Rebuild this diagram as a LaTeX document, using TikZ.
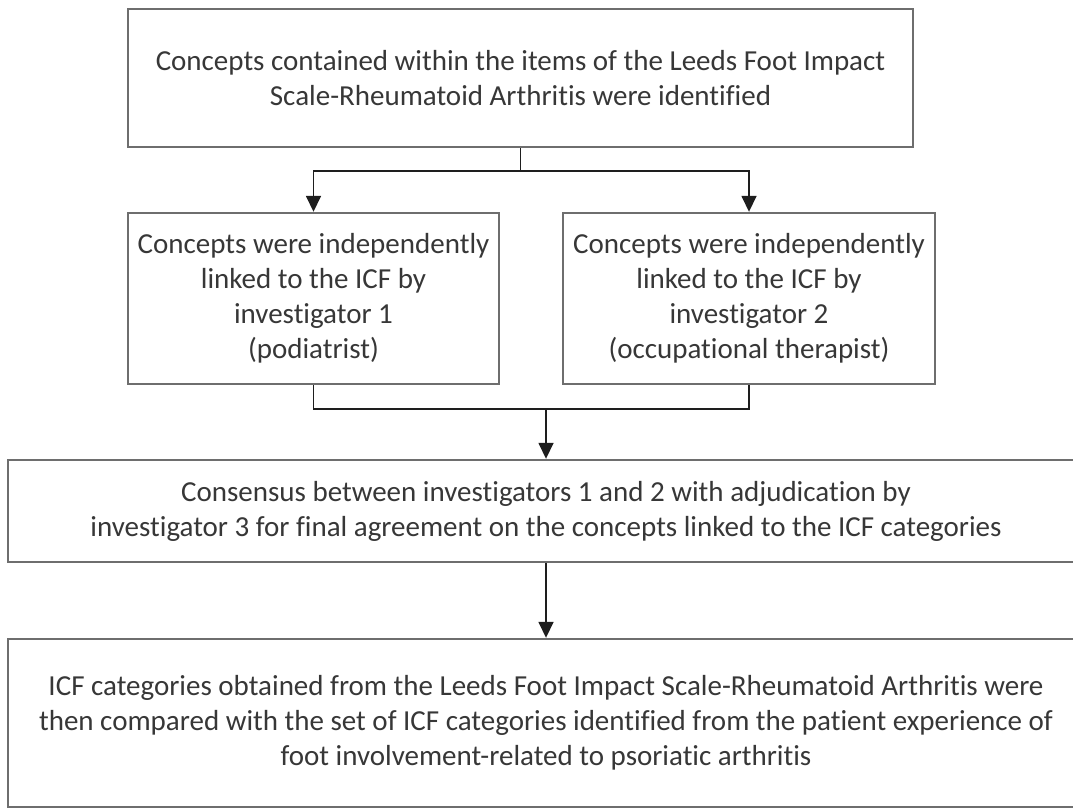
\documentclass[tikz,border=0pt]{standalone}
\usepackage{fontspec}
\setmainfont{Carlito}[Ligatures={NoCommon}]
\usetikzlibrary{arrows.meta}
\definecolor{boxline}{RGB}{110,110,110}
\definecolor{conline}{RGB}{30,30,30}
\definecolor{txt}{RGB}{55,55,55}
\tikzset{
  flowbox/.style={draw=boxline, line width=2.4pt, fill=white, inner sep=0pt,
    align=center, text=txt, font=\fontsize{29}{35}\selectfont},
  conn/.style={draw=conline, line width=1.6pt},
  arr/.style={conn, -{Triangle[width=15pt,length=16pt]}}
}
\begin{document}
\begin{tikzpicture}[x=1pt,y=-1pt]
\useasboundingbox (0,0) rectangle (1073,808);
\fill[white] (0,0) rectangle (1073,808);
\clip (0,0) rectangle (1073,808);
\node[flowbox, minimum width=785pt, minimum height=138pt] (b1) at (520.5,78)
  {Concepts contained within the items of the Leeds Foot Impact\\Scale-Rheumatoid Arthritis were identified};
\node[flowbox, minimum width=371pt, minimum height=171pt] (b2) at (313.5,298.5)
  {Concepts were independently\\linked to the ICF by\\investigator 1\\(podiatrist)};
\node[flowbox, minimum width=372pt, minimum height=171pt] (b3) at (749,298.5)
  {Concepts were independently\\linked to the ICF by\\investigator 2\\(occupational therapist)};
\node[flowbox, minimum width=1076pt, minimum height=102pt] (b4) at (546,511)
  {Consensus between investigators 1 and 2 with adjudication by\\investigator 3 for final agreement on the concepts linked to the ICF categories};
\node[flowbox, minimum width=1076pt, minimum height=168pt] (b5) at (546,723)
  {ICF categories obtained from the Leeds Foot Impact Scale-Rheumatoid Arthritis were\\then compared with the set of ICF categories identified from the patient experience of\\foot involvement-related to psoriatic arthritis};
\coordinate (j1) at (520.5,171);
\coordinate (j2) at (546,409);
\draw[conn] (b1.south) -- (j1);
\draw[arr] (j1) -| (b2.north);
\draw[arr] (j1) -| (b3.north);
\draw[conn] (b2.south) |- (j2) -| (b3.south);
\draw[arr] (j2) -- (b4.north);
\draw[arr] (b4.south) -- (b5.north);
\end{tikzpicture}
\end{document}
